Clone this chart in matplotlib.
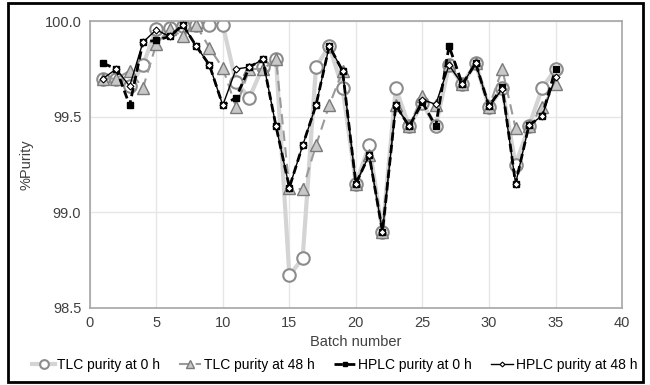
import matplotlib
matplotlib.use('Agg')
import matplotlib.pyplot as plt
from matplotlib.patches import Rectangle

plt.rcParams['font.family'] = ['Liberation Sans', 'DejaVu Sans']

batch = list(range(1, 36))

tlc_0h = [99.70, 99.70, 99.66, 99.77, 99.96, 99.965, 99.975, 99.98, 99.98, 99.98,
          99.68, 99.60, 99.76, 99.80, 98.67, 98.76, 99.76, 99.87, 99.65, 99.15,
          99.35, 98.90, 99.65, 99.45, 99.57, 99.45, 99.77, 99.67, 99.78, 99.55,
          99.65, 99.25, 99.45, 99.65, 99.75]
tlc_48h = [99.70, 99.70, 99.74, 99.65, 99.88, 99.96, 99.92, 99.98, 99.86, 99.755,
           99.55, 99.75, 99.75, 99.80, 99.13, 99.12, 99.35, 99.56, 99.74, 99.15,
           99.30, 98.90, 99.56, 99.45, 99.61, 99.56, 99.77, 99.67, 99.78, 99.55,
           99.75, 99.44, 99.45, 99.55, 99.67]
hplc_0h = [99.78, 99.75, 99.56, 99.89, 99.90, 99.92, 99.98, 99.87, 99.77, 99.56,
           99.60, 99.76, 99.80, 99.45, 99.13, 99.35, 99.56, 99.87, 99.74, 99.15,
           99.30, 98.90, 99.56, 99.45, 99.575, 99.45, 99.87, 99.67, 99.78, 99.555,
           99.655, 99.15, 99.455, 99.505, 99.75]
hplc_48h = [99.70, 99.75, 99.66, 99.89, 99.955, 99.92, 99.98, 99.87, 99.77, 99.56,
            99.75, 99.76, 99.80, 99.45, 99.13, 99.35, 99.56, 99.87, 99.74, 99.15,
            99.30, 98.90, 99.56, 99.45, 99.59, 99.565, 99.77, 99.67, 99.78, 99.555,
            99.645, 99.15, 99.455, 99.505, 99.71]

fig = plt.figure(figsize=(6.5, 3.85), dpi=100)
ax = fig.add_axes([0.138, 0.2, 0.819, 0.745])

ax.plot(batch, tlc_0h, color='#d4d4d4', lw=3, marker='o', ms=9,
        mfc='white', mec='#8c8c8c', mew=1.5, label='TLC purity at 0 h', zorder=2)
ax.plot(batch, tlc_48h, color='#9a9a9a', lw=1.5, ls=(0, (5, 3)), marker='^', ms=8,
        mfc='#c8c8c8', mec='#7a7a7a', mew=1, label='TLC purity at 48 h', zorder=3)
ax.plot(batch, hplc_0h, color='black', lw=2, ls=(0, (3, 1.5)), marker='s', ms=5,
        mfc='black', mec='black', label='HPLC purity at 0 h', zorder=4)
ax.plot(batch, hplc_48h, color='black', lw=1, marker='D', ms=3.5,
        mfc='white', mec='black', mew=0.8, label='HPLC purity at 48 h', zorder=5)

ax.set_xlim(0, 40)
ax.set_ylim(98.5, 100.0)
ax.set_xticks(range(0, 41, 5))
ax.set_yticks([98.5, 99.0, 99.5, 100.0])
ax.set_yticklabels(['98.5', '99.0', '99.5', '100.0'])
ax.grid(True, color='#e6e6e6', lw=1)
ax.set_axisbelow(True)
ax.tick_params(length=0, labelsize=10.5, colors='#404040', pad=6)
for s in ax.spines.values():
    s.set_color('#a6a6a6')
    s.set_linewidth(1.2)

ax.set_xlabel('Batch number', fontsize=10.5, color='#404040', labelpad=3)
ax.set_ylabel('%Purity', fontsize=10.5, color='#404040', labelpad=8)

fig.legend(loc='center', bbox_to_anchor=(0.515, 0.052), ncol=4, frameon=False,
           fontsize=10, handlelength=1.6, handletextpad=0.15, columnspacing=1.4,
           markerscale=0.7)

fig.patches.append(Rectangle((0.012, 0.008), 0.978, 0.984, transform=fig.transFigure,
                             fill=False, ec='black', lw=2))

fig.savefig('out.png', dpi=100)
